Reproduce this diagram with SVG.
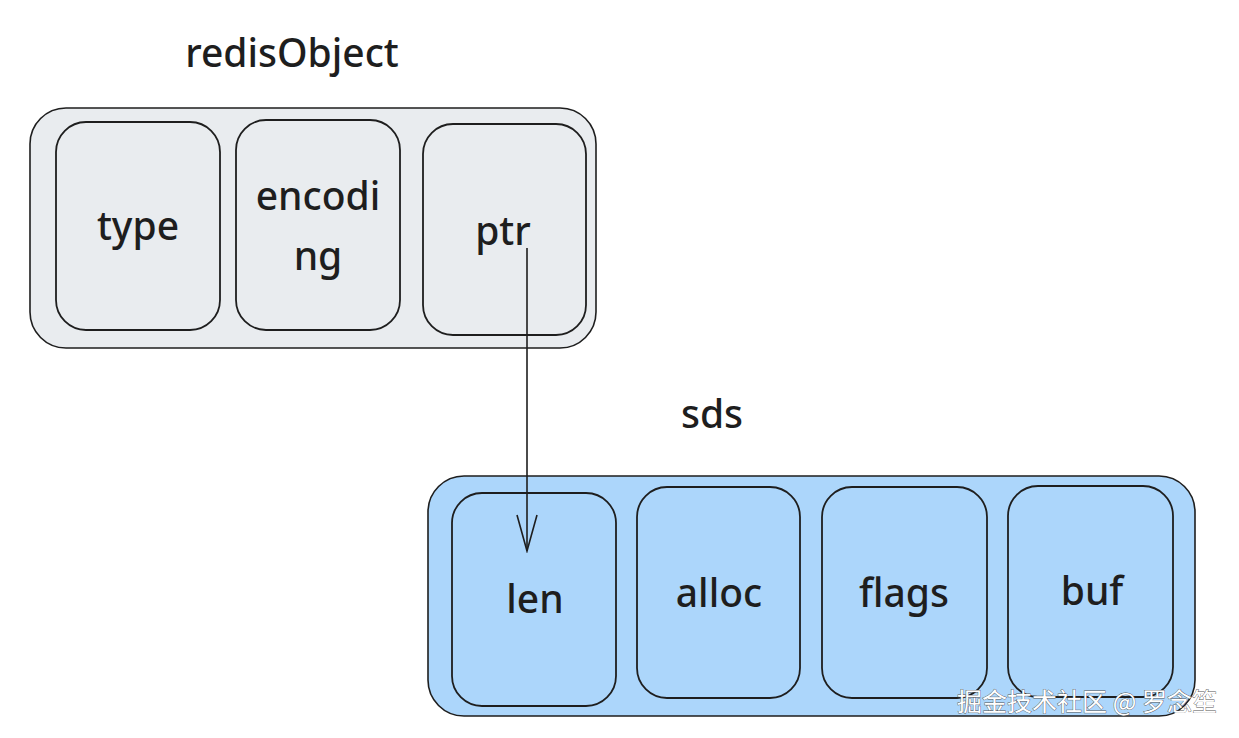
<svg xmlns="http://www.w3.org/2000/svg" width="1239" height="738" viewBox="0 0 1239 738">
<defs>
<style>
.t{font-family:"Noto Sans","Lato",sans-serif;font-size:39px;font-weight:500;fill:#1e1e1e;text-anchor:middle}
.outer{stroke:#1e1e1e;stroke-width:1.6}
.inner{fill:none;stroke:#1e1e1e;stroke-width:1.8}
.wm{font-family:"Noto Sans CJK SC",sans-serif;font-size:25px;fill:#ffffff;stroke:#555;stroke-width:0.8;paint-order:stroke}
</style>
<marker id="ah" markerWidth="40" markerHeight="24" refX="38" refY="12" orient="auto" markerUnits="userSpaceOnUse" viewBox="0 0 40 24">
<path d="M2 2 L38 12 L2 22" fill="none" stroke="#1e1e1e" stroke-width="1.6"/>
</marker>
</defs>
<rect width="1239" height="738" fill="#ffffff"/>
<g id="redisObject">
<text class="t" x="292" y="67">redisObject</text>
<rect class="outer" x="30" y="108" width="566" height="240" rx="36" fill="#e9ecef"/>
<g id="type"><rect class="inner" x="56" y="122" width="164" height="208" rx="30"/><text class="t" x="138" y="240">type</text></g>
<g id="encoding"><rect class="inner" x="236" y="120" width="164" height="210" rx="30"/><text class="t" x="318" y="210">encodi</text><text class="t" x="318" y="270">ng</text></g>
<g id="ptr"><rect class="inner" x="423" y="124" width="163" height="211" rx="30"/><text class="t" x="503" y="245">ptr</text></g>
</g>
<g id="sds">
<text class="t" x="712" y="428">sds</text>
<rect class="outer" x="428" y="476" width="767" height="240" rx="36" fill="#acd6fb"/>
<g id="len"><rect class="inner" x="452" y="493" width="164" height="213" rx="30"/><text class="t" x="535" y="613">len</text></g>
<g id="alloc"><rect class="inner" x="637" y="487" width="163" height="211" rx="30"/><text class="t" x="719" y="607">alloc</text></g>
<g id="flags"><rect class="inner" x="822" y="487" width="165" height="211" rx="30"/><text class="t" x="904" y="607">flags</text></g>
<g id="buf"><rect class="inner" x="1008" y="486" width="165" height="211" rx="30"/><text class="t" x="1092" y="605">buf</text></g>
</g>
<g id="connectors">
<path d="M527 248 L527 551" fill="none" stroke="#1e1e1e" stroke-width="1.6" marker-end="url(#ah)"/>
</g>
<text class="wm" x="1087" y="711" text-anchor="middle">掘金技术社区 @ 罗念笙</text>
</svg>
